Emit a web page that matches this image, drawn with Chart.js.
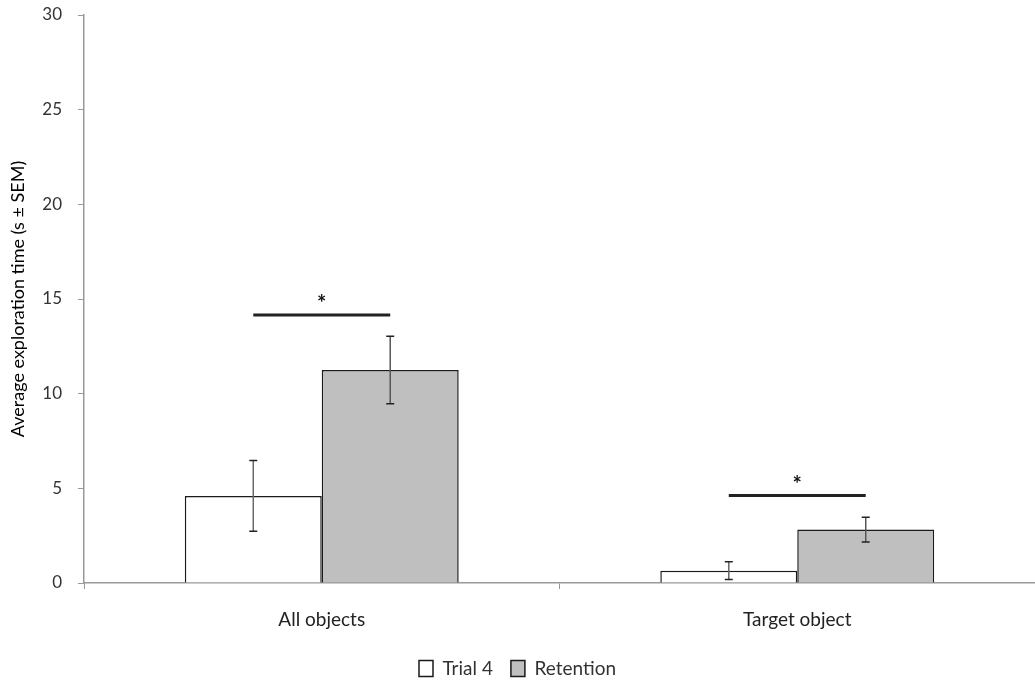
<!DOCTYPE html>
<html>
<head>
<meta charset="utf-8">
<script src="https://cdn.jsdelivr.net/npm/chart.js@4.4.1/dist/chart.umd.min.js"></script>
<style>
  html, body { margin: 0; padding: 0; background: #fff; }
  #wrap { width: 1035px; height: 682px; }
</style>
</head>
<body>
<div id="wrap"><canvas id="myChart"></canvas></div>
<script>
// data
const categories = ['All objects', 'Target object'];
const trial4 = [4.6, 0.65];
const retention = [11.25, 2.82];
const trial4Sem = [1.87, 0.47];
const retentionSem = [1.78, 0.65];
const sigLevels = [14.15, 4.62]; // height of the significance bar per category
const sigMarks = ['*', '*'];

// draws the ± SEM whiskers and the significance bars using the chart's own scales
const extrasPlugin = {
  id: 'extras',
  afterDatasetsDraw(chart) {
    const ctx = chart.ctx;
    const y = chart.scales.y;
    const sems = [trial4Sem, retentionSem];
    const whiskerColors = ['#666', '#555'];

    chart.data.datasets.forEach((ds, di) => {
      const meta = chart.getDatasetMeta(di);
      meta.data.forEach((bar, i) => {
        const v = ds.data[i];
        const hi = y.getPixelForValue(v + sems[di][i]);
        const lo = y.getPixelForValue(v - sems[di][i]);
        ctx.save();
        ctx.strokeStyle = whiskerColors[di];
        ctx.lineWidth = 1.5;
        ctx.beginPath();
        ctx.moveTo(bar.x, hi);
        ctx.lineTo(bar.x, lo);
        ctx.stroke();
        ctx.strokeStyle = '#222';
        ctx.beginPath();
        ctx.moveTo(bar.x - 4, hi); ctx.lineTo(bar.x + 4, hi);
        ctx.moveTo(bar.x - 4, lo); ctx.lineTo(bar.x + 4, lo);
        ctx.stroke();
        ctx.restore();
      });
    });

    // significance bars from the middle of one bar to the middle of the other
    const m0 = chart.getDatasetMeta(0);
    const m1 = chart.getDatasetMeta(1);
    sigLevels.forEach((lvl, i) => {
      const left = m0.data[i].x;
      const right = m1.data[i].x;
      const py = y.getPixelForValue(lvl);
      ctx.save();
      ctx.strokeStyle = '#222';
      ctx.lineWidth = 3;
      ctx.beginPath();
      ctx.moveTo(left, py);
      ctx.lineTo(right, py);
      ctx.stroke();
      ctx.fillStyle = '#111';
      ctx.font = 'bold 22px Lato, sans-serif';
      ctx.textAlign = 'center';
      ctx.textBaseline = 'middle';
      ctx.fillText(sigMarks[i], (left + right) / 2, py - 11);
      ctx.restore();
    });
  }
};

const ctx = document.getElementById('myChart').getContext('2d');
new Chart(ctx, {
  type: 'bar',
  data: {
    labels: categories,
    datasets: [
      {
        label: 'Trial 4',
        data: trial4,
        backgroundColor: '#ffffff',
        borderColor: '#1a1a1a',
        borderWidth: 1.5,
        barPercentage: 1,
        categoryPercentage: 0.576,
      },
      {
        label: 'Retention',
        data: retention,
        backgroundColor: '#bfbfbf',
        borderColor: '#1a1a1a',
        borderWidth: 1.5,
        barPercentage: 1,
        categoryPercentage: 0.576,
      }
    ]
  },
  options: {
    responsive: true,
    maintainAspectRatio: false,
    animation: false,
    layout: { autoPadding: false, padding: { top: 15, right: 0, left: 0, bottom: -6 } },
    plugins: {
      tooltip: { enabled: false },
      legend: {
        position: 'bottom',
        labels: {
          boxWidth: 14,
          boxHeight: 16,
          padding: 18,
          color: '#333',
          font: { family: 'Lato, sans-serif', size: 19 }
        }
      }
    },
    scales: {
      x: {
        afterFit: s => { s.height = 58; },
        grid: {
          offset: true,
          drawOnChartArea: false,
          tickLength: 6,
          color: '#999'
        },
        border: { color: '#999', width: 1.5 },
        ticks: {
          color: '#222',
          padding: 19,
          font: { family: 'Lato, sans-serif', size: 19 }
        }
      },
      y: {
        min: 0,
        max: 30,
        afterFit: s => { s.width = 84; s.paddingTop = 0; s.paddingBottom = 0; },
        grid: {
          drawOnChartArea: false,
          tickLength: 6,
          color: '#999'
        },
        border: { color: '#999', width: 1.5 },
        ticks: {
          stepSize: 5,
          color: '#333',
          padding: 16,
          font: { family: 'Lato, sans-serif', size: 17 }
        },
        title: {
          display: true,
          text: 'Average exploration time (s ± SEM)',
          color: '#000',
          padding: { top: 7, bottom: 0 },
          font: { family: 'Lato, sans-serif', size: 18 }
        }
      }
    }
  },
  plugins: [extrasPlugin]
});
</script>
</body>
</html>
